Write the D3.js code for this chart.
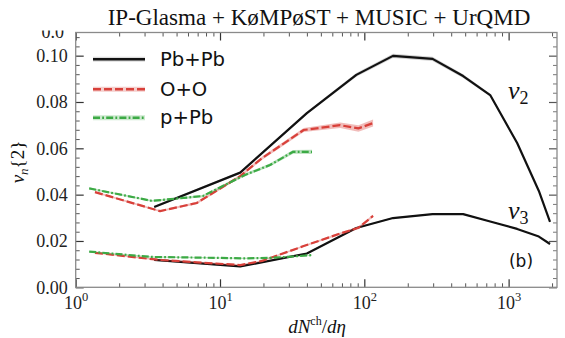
<!DOCTYPE html>
<html><head><meta charset="utf-8">
<script src="https://cdn.jsdelivr.net/npm/d3@7"></script>
<style>body{margin:0;background:#fff} svg{display:block}</style>
</head><body><svg id="c" width="565" height="338"></svg>
<script>
// ---- data ----
const pbpbMult = [3.5, 13.8, 40, 88, 158, 297, 484, 745, 1146, 1620, 1936];
const pbpbV2   = [0.0347, 0.0495, 0.0752, 0.0917, 0.0999, 0.0986, 0.0912, 0.0830, 0.0623, 0.0416, 0.0282];
const pbpbV3   = [0.0118, 0.0090, 0.0146, 0.0256, 0.0299, 0.0316, 0.0316, 0.0284, 0.0252, 0.0219, 0.0187];
const pbpbErr2 = [0.0005, 0.0005, 0.0006, 0.0008, 0.0009, 0.0009, 0.0008, 0.0006, 0.0004, 0.0003, 0.0003];
const pbpbErr3 = [0.0003, 0.0003, 0.0003, 0.0003, 0.0003, 0.0003, 0.0003, 0.0002, 0.0002, 0.0002, 0.0002];

const ooMult = [1.36, 3.84, 6.9, 13.8, 19.6, 38, 68, 91, 115];
const ooV2   = [0.0411, 0.0329, 0.0364, 0.0480, 0.0558, 0.0679, 0.0700, 0.0686, 0.0709];
const ooV3   = [0.0149, 0.0118, 0.0108, 0.0096, 0.0114, 0.0178, 0.0232, 0.0257, 0.0308];
const ooErr2 = [0.0004, 0.0004, 0.0005, 0.0006, 0.0007, 0.0009, 0.0012, 0.0014, 0.0015];
const ooErr3 = [0.0003, 0.0003, 0.0003, 0.0003, 0.0003, 0.0004, 0.0005, 0.0006, 0.0006];

const ppbMult = [1.24, 3.38, 7.6, 14.9, 22.2, 32.1, 43.4];
const ppbV2   = [0.0427, 0.0373, 0.0394, 0.0485, 0.0528, 0.0585, 0.0585];
const ppbV3   = [0.0154, 0.0131, 0.0128, 0.0125, 0.0127, 0.0133, 0.0139];
const ppbErr2 = [0.0004, 0.0004, 0.0005, 0.0006, 0.0007, 0.0008, 0.0009];
const ppbErr3 = [0.0003, 0.0003, 0.0003, 0.0003, 0.0003, 0.0003, 0.0003];

const legendLabels = ["Pb+Pb", "O+O", "p+Pb"];
const yTicks = [0.00, 0.02, 0.04, 0.06, 0.08, 0.10];
const xTicks = [1, 10, 100, 1000];
const titleText = "IP-Glasma + KøMPøST + MUSIC + UrQMD";

// ---- layout ----
const svg = d3.select("#c");
const L = 75.7, R = 557, T = 32.5, B = 287.3;
const x = d3.scaleLog().domain([1, 2164]).range([L, R]);
const y = d3.scaleLinear().domain([0, 0.11]).range([B, T]);
const serif = "'Liberation Serif', 'Times New Roman', serif";
const sans = "'DejaVu Sans', sans-serif";

function fitWidth(sel, w) {
  const n = sel.node(); const cur = n.getComputedTextLength();
  const fs = parseFloat(sel.attr("font-size"));
  sel.attr("font-size", fs * w / cur);
  return fs * w / cur;
}

const red = "#d8403a", green = "#3caa45", black = "#111";
const series = [
  {m: pbpbMult, v: pbpbV2, e: pbpbErr2, c: black, band: "#777", dash: null},
  {m: pbpbMult, v: pbpbV3, e: pbpbErr3, c: black, band: "#777", dash: null},
  {m: ooMult, v: ooV2, e: ooErr2, c: red, band: red, dash: "8,3"},
  {m: ooMult, v: ooV3, e: ooErr3, c: red, band: red, dash: "8,3"},
  {m: ppbMult, v: ppbV2, e: ppbErr2, c: green, band: green, dash: "7,2.2,1.8,2.2"},
  {m: ppbMult, v: ppbV3, e: ppbErr3, c: green, band: green, dash: "7,2.2,1.8,2.2"},
];
const gPlot = svg.append("g");
series.forEach(s => {
  const pts = s.m.map((mm, k) => ({x: mm, v: s.v[k], e: s.e[k]}));
  gPlot.append("path").datum(pts)
    .attr("d", d3.area().x(d => x(d.x)).y0(d => y(d.v - d.e)).y1(d => y(d.v + d.e)))
    .attr("fill", s.band).attr("opacity", 0.35);
  gPlot.append("path").datum(pts)
    .attr("d", d3.line().x(d => x(d.x)).y(d => y(d.v)))
    .attr("fill", "none").attr("stroke", s.c).attr("stroke-width", 2.2)
    .attr("stroke-dasharray", s.dash).attr("stroke-linejoin", "round");
});

// ---- axes ----
const spine = "#8a8a8a";
const minorY = d3.range(0, 0.1101, 0.004).filter(v => yTicks.every(t => Math.abs(t - v) > 1e-6));
const minorX = [];
[1, 10, 100, 1000].forEach(d => { for (let k = 2; k <= 9; k++) if (d * k <= 2164) minorX.push(d * k); });

function styleAxis(g, col, w) {
  g.select(".domain").remove();
  g.selectAll(".tick line").attr("stroke", col).attr("stroke-width", w);
}
const gl = svg.append("g").attr("transform", `translate(${L},0)`)
  .call(d3.axisLeft(y).tickValues(yTicks).tickSize(-8).tickPadding(8).tickFormat(d3.format(".2f")));
styleAxis(gl, "#333", 1.2);
gl.selectAll("text").attr("font-family", serif).attr("font-size", 18).attr("fill", "#222");
const glm = svg.append("g").attr("transform", `translate(${L},0)`)
  .call(d3.axisLeft(y).tickValues(minorY).tickSize(-4).tickFormat(""));
styleAxis(glm, "#555", 1);
const gr = svg.append("g").attr("transform", `translate(${R},0)`)
  .call(d3.axisRight(y).tickValues(yTicks).tickSize(-8).tickFormat(""));
styleAxis(gr, "#555", 1.2);
const grm = svg.append("g").attr("transform", `translate(${R},0)`)
  .call(d3.axisRight(y).tickValues(minorY).tickSize(-4).tickFormat(""));
styleAxis(grm, "#777", 1);
const gb = svg.append("g").attr("transform", `translate(0,${B})`)
  .call(d3.axisBottom(x).tickValues(xTicks).tickSize(-8).tickPadding(8).tickFormat(() => ""));
styleAxis(gb, "#333", 1.2);
gb.selectAll(".tick").each(function(d) {
  const t = d3.select(this).select("text").attr("font-family", serif).attr("font-size", 18)
    .attr("fill", "#222").attr("dy", null).attr("y", 22);
  t.text("10");
  t.append("tspan").attr("font-size", 12.5).attr("dy", -8).text(Math.round(Math.log10(d)));
});
const gbm = svg.append("g").attr("transform", `translate(0,${B})`)
  .call(d3.axisBottom(x).tickValues(minorX).tickSize(-4).tickFormat(""));
styleAxis(gbm, "#555", 1);
const gt = svg.append("g").attr("transform", `translate(0,${T})`)
  .call(d3.axisTop(x).tickValues(xTicks).tickSize(-8).tickFormat(""));
styleAxis(gt, "#333", 1.2);
const gtm = svg.append("g").attr("transform", `translate(0,${T})`)
  .call(d3.axisTop(x).tickValues(minorX).tickSize(-4).tickFormat(""));
styleAxis(gtm, "#555", 1);
svg.append("rect").attr("x", L).attr("y", T).attr("width", R - L).attr("height", B - T)
  .attr("fill", "none").attr("stroke", spine).attr("stroke-width", 1.3);

// clipped stray label at top of y axis (only its lower half shows in the reference)
svg.append("clipPath").attr("id", "topclip").append("rect").attr("x", 0).attr("y", 30.5).attr("width", 80).attr("height", 20);
svg.append("text").attr("clip-path", "url(#topclip)").attr("x", 64).attr("y", 37.5)
  .attr("text-anchor", "end").attr("font-family", serif).attr("font-size", 18).attr("fill", "#222").text("0.0");

// ---- title ----
const title = svg.append("text").attr("x", 319).attr("y", 25).attr("text-anchor", "middle")
  .attr("font-family", serif).attr("font-size", 20).attr("fill", "#111").text(titleText);
fitWidth(title, 423);

// ---- axis labels ----
const xl = svg.append("text").attr("x", 317).attr("y", 333).attr("text-anchor", "middle")
  .attr("font-family", serif).attr("font-size", 19).attr("fill", "#111");
xl.append("tspan").attr("font-style", "italic").text("dN");
xl.append("tspan").attr("font-size", 12).attr("dy", -8).text("ch");
xl.append("tspan").attr("dy", 8).text("/");
xl.append("tspan").attr("font-style", "italic").text("dη");

const yl = svg.append("text").attr("transform", "translate(24,162) rotate(-90)").attr("text-anchor", "middle")
  .attr("font-family", serif).attr("font-size", 19).attr("fill", "#111");
yl.append("tspan").attr("font-style", "italic").text("v");
yl.append("tspan").attr("font-style", "italic").attr("font-size", 13).attr("dy", 4).text("n");
yl.append("tspan").attr("dy", -4).text("{2}");

// ---- annotations ----
function vlabel(px, py, sub) {
  const t = svg.append("text").attr("x", px).attr("y", py).attr("font-family", serif)
    .attr("font-size", 26).attr("fill", "#111");
  t.append("tspan").attr("font-style", "italic").text("v");
  t.append("tspan").attr("font-size", 18).attr("dy", 5).text(sub);
}
vlabel(508, 99, "2");
vlabel(508, 219, "3");
svg.append("text").attr("x", 521).attr("y", 267).attr("text-anchor", "middle")
  .attr("font-family", sans).attr("font-size", 17).attr("fill", "#111").text("(b)");

// ---- legend ----
const legY = [59.3, 89.3, 117.7];
const legS = [series[0], series[2], series[4]];
let legFs = 18;
legendLabels.forEach((lab, i) => {
  const s = legS[i];
  svg.append("line").attr("x1", 93).attr("x2", 145).attr("y1", legY[i]).attr("y2", legY[i])
    .attr("stroke", s.band).attr("stroke-width", 5).attr("opacity", 0.25);
  svg.append("line").attr("x1", 93).attr("x2", 145).attr("y1", legY[i]).attr("y2", legY[i])
    .attr("stroke", s.c).attr("stroke-width", 2.4).attr("stroke-dasharray", s.dash);
  const t = svg.append("text").attr("x", 160).attr("y", legY[i] + 6.5)
    .attr("font-family", sans).attr("font-size", legFs).attr("fill", "#111").text(lab);
  if (i === 0) legFs = fitWidth(t, 65);
});
</script></body></html>
